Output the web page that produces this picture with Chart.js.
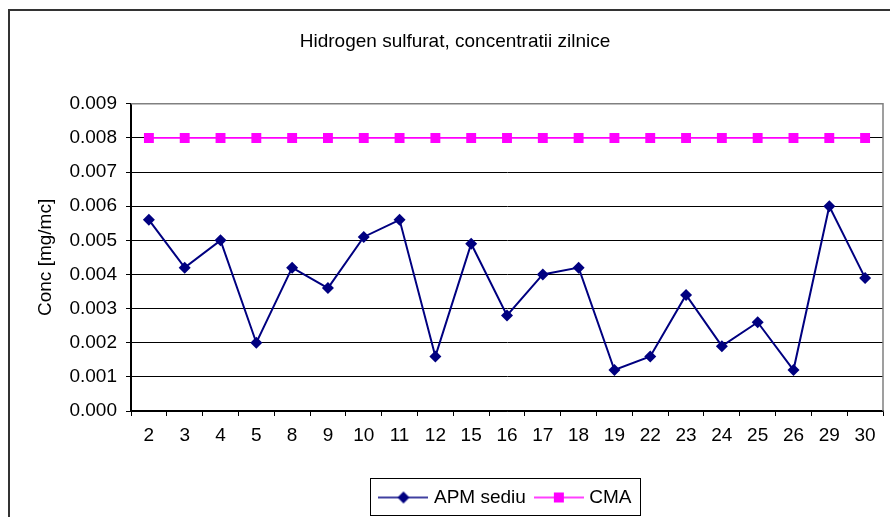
<!DOCTYPE html>
<html>
<head>
<meta charset="utf-8">
<script src="https://cdn.jsdelivr.net/npm/chart.js@4.4.1/dist/chart.umd.min.js"></script>
<style>
  html, body { margin: 0; padding: 0; background: #fff; }
  #wrap { position: relative; width: 890px; height: 517px; }
  #frame { position: absolute; left: 8px; top: 9px; width: 900px; height: 600px; border: 2px solid #333; box-sizing: border-box; }
  canvas { position: absolute; left: 0; top: 0; }
</style>
</head>
<body>
<div id="wrap">
  <div id="frame"></div>
  <canvas id="grafico" width="890" height="517"></canvas>
</div>
<script>
// Zilele din luna (categorii)
const zile = ['2', '3', '4', '5', '8', '9', '10', '11', '12', '15', '16', '17', '18', '19', '22', '23', '24', '25', '26', '29', '30'];
// Concentratii masurate APM sediu (mg/mc)
const apmSediu = [0.0056, 0.0042, 0.0050, 0.0020, 0.0042, 0.0036, 0.0051, 0.0056, 0.0016, 0.0049, 0.0028,
                  0.0040, 0.0042, 0.0012, 0.0016, 0.0034, 0.0019, 0.0026, 0.0012, 0.0060, 0.0039];
// Concentratia maxima admisa
const cma = [0.008, 0.008, 0.008, 0.008, 0.008, 0.008, 0.008, 0.008, 0.008, 0.008, 0.008,
             0.008, 0.008, 0.008, 0.008, 0.008, 0.008, 0.008, 0.008, 0.008, 0.008];

const font = 'Liberation Sans, Arial, sans-serif';
const fs = 19;
const bleu = '#000080';
const roz = '#FF00FF';

// mostra din legenda: linie cu marker la mijloc
function mostra(culoare, tip) {
    const c = document.createElement('canvas');
    c.width = 50; c.height = 14;
    const g = c.getContext('2d');
    g.strokeStyle = culoare;
    g.lineWidth = 1.5;
    g.beginPath(); g.moveTo(0, 7); g.lineTo(50, 7); g.stroke();
    g.fillStyle = culoare;
    g.beginPath();
    if (tip === 'romb') {
        g.moveTo(25, 1); g.lineTo(31, 7); g.lineTo(25, 13); g.lineTo(19, 7);
    } else {
        g.rect(20, 2, 10, 10);
    }
    g.closePath(); g.fill();
    return c;
}

// legenda centrata pe zona graficului + chenar
const chenarLegenda = {
    id: 'chenarLegenda',
    afterLayout(chart) {
        const lg = chart.legend;
        lg.left += 52;
        lg.right += 52;
    },
    afterDraw(chart) {
        const hb = chart.legend.legendHitBoxes;
        if (!hb || !hb.length) return;
        const ctx = chart.ctx;
        const x1 = hb[0].left - 4 - 8;
        const x2 = hb[hb.length - 1].left + hb[hb.length - 1].width + 9;
        ctx.save();
        ctx.strokeStyle = '#000';
        ctx.lineWidth = 1;
        ctx.strokeRect(Math.round(x1) + 0.5, 478.5, Math.round(x2 - x1), 37);
        ctx.restore();
    }
};

const ctx = document.getElementById('grafico').getContext('2d');
new Chart(ctx, {
    type: 'line',
    data: {
        labels: zile,
        datasets: [{
            label: 'APM sediu',
            data: apmSediu,
            borderColor: bleu,
            backgroundColor: bleu,
            borderWidth: 2,
            pointStyle: 'rectRot',
            pointRadius: 6,
            pointBorderWidth: 0,
            tension: 0
        }, {
            label: 'CMA',
            data: cma,
            borderColor: roz,
            backgroundColor: roz,
            borderWidth: 1.75,
            pointStyle: 'rect',
            pointRadius: 7,
            pointBorderWidth: 0,
            tension: 0
        }]
    },
    options: {
        responsive: false,
        animation: false,
        layout: { padding: { left: 27, right: 7, top: 30, bottom: 0 } },
        scales: {
            x: {
                offset: true,
                grid: { offset: true, display: true, drawOnChartArea: false, color: '#000', tickLength: 5 },
                border: { color: '#000', width: 1.5 },
                ticks: { color: '#000', font: { family: font, size: fs }, padding: 8, maxRotation: 0, autoSkip: false },
                afterFit(scale) { scale.height = 65; }
            },
            y: {
                min: 0,
                max: 0.009,
                ticks: {
                    stepSize: 0.001,
                    color: '#000',
                    font: { family: font, size: fs },
                    padding: 9,
                    callback: v => v.toFixed(3)
                },
                grid: { color: '#000', lineWidth: 1, tickLength: 5 },
                border: { color: '#000', width: 2 },
                title: { display: true, text: 'Conc [mg/mc]', color: '#000', font: { family: font, size: fs }, padding: { top: 7, bottom: 0 } },
                afterFit(scale) { scale.width = 104; }
            }
        },
        plugins: {
            title: {
                display: true,
                text: 'Hidrogen sulfurat, concentratii zilnice',
                color: '#000',
                font: { family: font, size: fs, weight: 'normal' },
                padding: { top: 0, bottom: 51 }
            },
            legend: {
                position: 'bottom',
                labels: {
                    color: '#000',
                    font: { family: font, size: fs },
                    usePointStyle: true,
                    pointStyleWidth: 42,
                    padding: 12,
                    generateLabels(chart) {
                        const base = Chart.defaults.plugins.legend.labels.generateLabels(chart);
                        base[0].pointStyle = mostra(bleu, 'romb');
                        base[1].pointStyle = mostra(roz, 'patrat');
                        return base;
                    }
                }
            },
            tooltip: { enabled: false }
        }
    },
    plugins: [chenarLegenda, {
        id: 'chenarGrafic',
        afterDraw(chart) {
            const a = chart.chartArea;
            const c = chart.ctx;
            c.save();
            c.strokeStyle = '#808080';
            c.lineWidth = 1.5;
            c.beginPath();
            c.moveTo(a.left, a.top); c.lineTo(a.right, a.top); c.lineTo(a.right, a.bottom);
            c.stroke();
            c.restore();
        }
    }]
});
</script>
</body>
</html>
